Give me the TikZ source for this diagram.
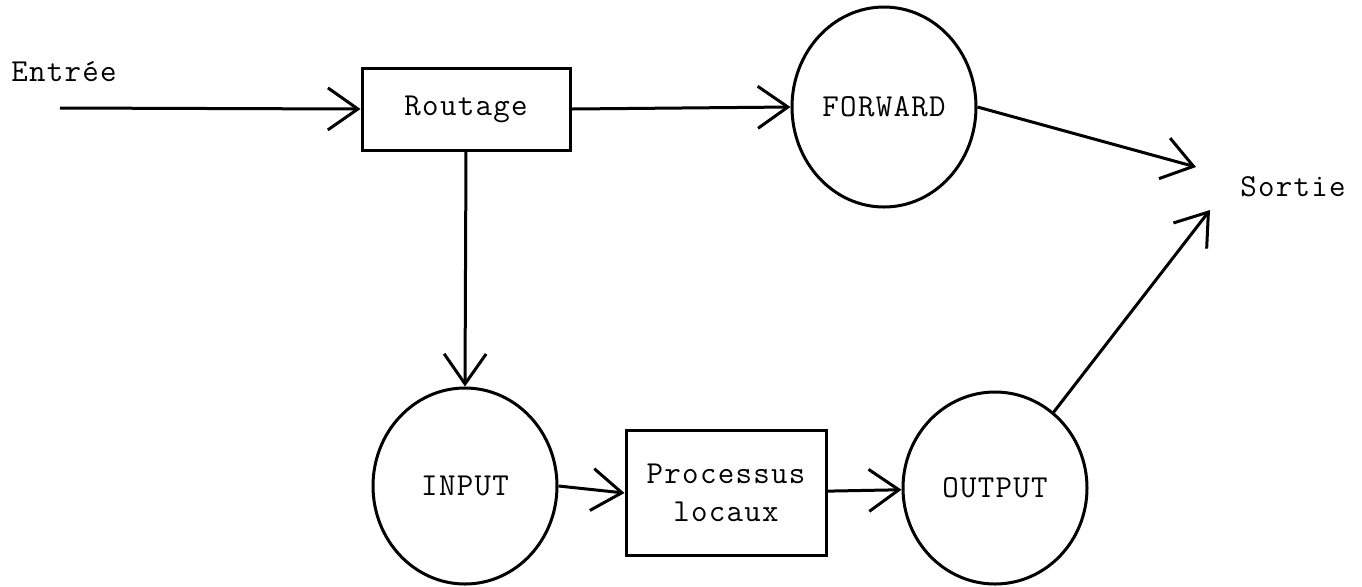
\documentclass[tikz,border=0pt]{standalone}
\usepackage{fontspec}
\setmonofont{Latin Modern Mono}[LetterSpace=4]
\usetikzlibrary{shapes.geometric,arrows.meta}
\begin{document}
\begin{tikzpicture}[x=0.5pt,y=-0.5pt,
  every node/.style={font=\ttfamily\fontsize{16pt}{19pt}\selectfont},
  box/.style={draw,line width=1.5pt,rectangle,inner sep=0pt,align=center},
  oval/.style={draw,line width=1.5pt,ellipse,inner sep=0pt},
  arr/.style={line width=1.5pt,-{Straight Barb[length=15pt,width=21pt,line width=1.5pt]}},
  lbl/.style={inner sep=0pt}]
\useasboundingbox (0,0) rectangle (1362,586);
\node[lbl] (entree) at (64,72) {Entrée};
\coordinate (in0) at (60,108);
\node[box,minimum width=104pt,minimum height=41pt] (routage) at (466,109) {Routage};
\node[oval,minimum width=92pt,minimum height=100pt] (forward) at (884,107) {FORWARD};
\node[lbl] (sortie) at (1293,187) {Sortie};
\coordinate (s1) at (1196,167);
\coordinate (s2) at (1210,210);
\node[oval,minimum width=92pt,minimum height=98pt] (input) at (465,486) {INPUT};
\node[box,minimum width=100pt,minimum height=62.5pt] (proc) at (726,493) {Processus\\locaux};
\node[oval,minimum width=92pt,minimum height=96pt] (output) at (995,488) {OUTPUT};
\draw[arr] (in0) -- (routage.west);
\draw[arr] (routage.east) -- (forward.west);
\draw[arr] (forward.east) -- (s1);
\draw[arr] (routage.south) -- (input.north);
\draw[arr] (input.east) -- (proc.west);
\draw[arr] (proc) -- (output);
\draw[arr] (output) -- (s2);
\end{tikzpicture}
\end{document}
